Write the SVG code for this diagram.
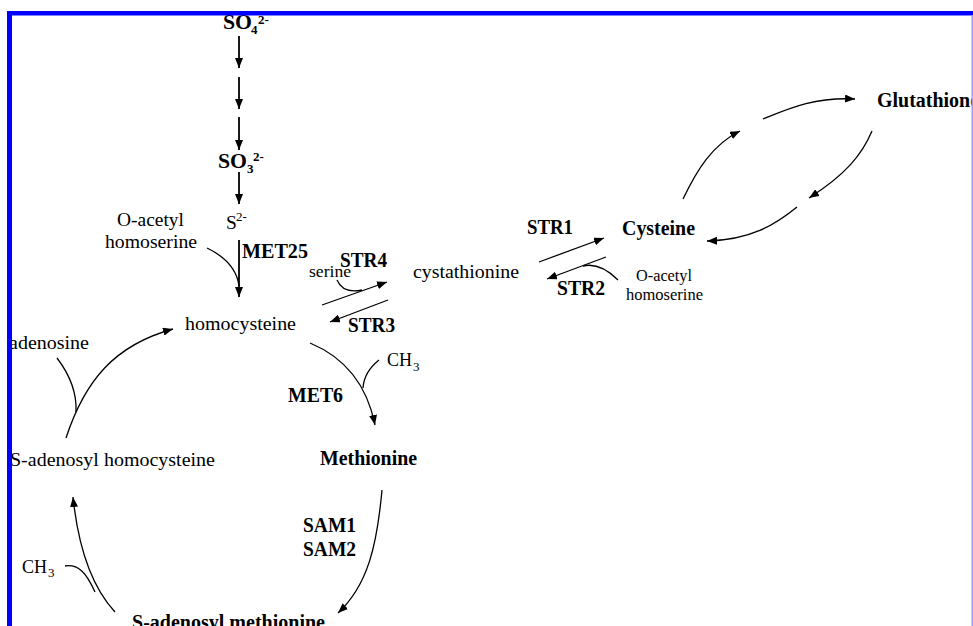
<svg xmlns="http://www.w3.org/2000/svg" width="973" height="626" viewBox="0 0 973 626">
<style>
text{font-family:"Liberation Serif","Times New Roman",serif;fill:#000}
.r{font-size:19.5px}
.s{font-size:16.5px}
.b{font-size:20px;font-weight:bold}
.sb{font-size:13px;font-weight:bold}
.sr{font-size:13px}
.c{fill:none;stroke:#000;stroke-width:1.3}
.v{fill:none;stroke:#000;stroke-width:1.8}
</style>
<defs>
<marker id="ah" viewBox="0 0 10 8" refX="10" refY="4" markerWidth="10" markerHeight="8" markerUnits="userSpaceOnUse" orient="auto">
<path d="M0,0 L10,4 L0,8 z" fill="#000"/>
</marker>
</defs>
<rect x="0" y="0" width="973" height="626" fill="#fff"/>

<g id="so4"><text class="b" x="223" y="29" font-size="22" textLength="29" lengthAdjust="spacingAndGlyphs">SO</text><text class="sb" x="251" y="34">4</text><text class="sb" x="258" y="24">2-</text></g>
<g id="so3"><text class="b" x="218" y="168" textLength="29" lengthAdjust="spacingAndGlyphs">SO</text><text class="sb" x="247" y="173">3</text><text class="sb" x="253" y="161">2-</text></g>
<g id="s2"><text class="r" x="226" y="229">S</text><text class="sr" x="236" y="221">2-</text></g>
<g id="oah1"><text class="r" x="117" y="226" textLength="67" lengthAdjust="spacingAndGlyphs">O-acetyl</text><text class="r" x="105" y="248" textLength="92" lengthAdjust="spacingAndGlyphs">homoserine</text></g>
<g id="met25"><text class="b" x="242" y="258" textLength="66" lengthAdjust="spacingAndGlyphs">MET25</text></g>
<g id="str4"><text class="b" x="340" y="267" textLength="47" lengthAdjust="spacingAndGlyphs">STR4</text></g>
<g id="serine"><text class="s" x="309" y="277" font-size="15" textLength="42" lengthAdjust="spacingAndGlyphs">serine</text></g>
<g id="cystathionine"><text class="r" x="413" y="278" textLength="106" lengthAdjust="spacingAndGlyphs">cystathionine</text></g>
<g id="str1"><text class="b" x="527" y="234" textLength="46" lengthAdjust="spacingAndGlyphs">STR1</text></g>
<g id="cysteine"><text class="b" x="622" y="235" textLength="73" lengthAdjust="spacingAndGlyphs">Cysteine</text></g>
<g id="str2"><text class="b" x="557" y="295" textLength="48" lengthAdjust="spacingAndGlyphs">STR2</text></g>
<g id="oah2"><text class="s" x="636" y="281" textLength="56" lengthAdjust="spacingAndGlyphs">O-acetyl</text><text class="s" x="626" y="300" textLength="77" lengthAdjust="spacingAndGlyphs">homoserine</text></g>
<g id="glutathione"><text class="b" x="877" y="107" textLength="102" lengthAdjust="spacingAndGlyphs">Glutathione</text></g>
<g id="homocysteine"><text class="r" x="185" y="330" textLength="111" lengthAdjust="spacingAndGlyphs">homocysteine</text></g>
<g id="str3"><text class="b" x="348" y="332" textLength="47" lengthAdjust="spacingAndGlyphs">STR3</text></g>
<g id="adenosine"><text class="r" x="9" y="349" textLength="80" lengthAdjust="spacingAndGlyphs">adenosine</text></g>
<g id="ch3a"><text class="r" x="387" y="366" font-size="18" textLength="25" lengthAdjust="spacingAndGlyphs">CH</text><text class="sr" x="413" y="371">3</text></g>
<g id="met6"><text class="b" x="288" y="402" textLength="55" lengthAdjust="spacingAndGlyphs">MET6</text></g>
<g id="methionine"><text class="b" x="320" y="465" textLength="97" lengthAdjust="spacingAndGlyphs">Methionine</text></g>
<g id="sah"><text class="r" x="10" y="466" textLength="205" lengthAdjust="spacingAndGlyphs">S-adenosyl homocysteine</text></g>
<g id="sam"><text class="b" x="303" y="532" textLength="53" lengthAdjust="spacingAndGlyphs">SAM1</text><text class="b" x="303" y="556" textLength="53" lengthAdjust="spacingAndGlyphs">SAM2</text></g>
<g id="ch3b"><text class="r" x="22" y="573" font-size="18" textLength="25" lengthAdjust="spacingAndGlyphs">CH</text><text class="sr" x="48" y="577">3</text></g>
<g id="samet"><text class="b" x="132" y="629" textLength="193" lengthAdjust="spacingAndGlyphs">S-adenosyl methionine</text></g>

<g id="connectors">
<path class="v" d="M239,36 V68" marker-end="url(#ah)"/>
<path class="v" d="M239,77 V109" marker-end="url(#ah)"/>
<path class="v" d="M239,117 V150" marker-end="url(#ah)"/>
<path class="v" d="M239,172 V204" marker-end="url(#ah)"/>
<path class="v" d="M239,240 V297" marker-end="url(#ah)"/>
<path class="c" d="M207,248 Q236,262 239,286"/>
<path class="c" d="M322,305 L387,282" marker-end="url(#ah)"/>
<path class="c" d="M337,280 Q343,294 362,290"/>
<path class="c" d="M388,300 L330,322" marker-end="url(#ah)"/>
<path class="c" d="M539,262 L604,238" marker-end="url(#ah)"/>
<path class="c" d="M606,257 L547,279" marker-end="url(#ah)"/>
<path class="c" d="M618,280 Q600,262 583,266"/>
<path class="c" d="M683,199 C697,170 712,145 740,131" marker-end="url(#ah)"/>
<path class="c" d="M763,119 C790,108 815,97 855,99" marker-end="url(#ah)"/>
<path class="c" d="M872,131 C862,155 845,175 809,198" marker-end="url(#ah)"/>
<path class="c" d="M797,207 C775,225 750,240 707,241" marker-end="url(#ah)"/>
<path class="c" d="M310,343 Q363,365 375,425" marker-end="url(#ah)"/>
<path class="c" d="M379,360 Q364,372 363,388"/>
<path class="c" d="M382,490 C377,545 368,585 338,613" marker-end="url(#ah)"/>
<path class="c" d="M115,612 C90,585 78,545 73,497" marker-end="url(#ah)"/>
<path class="c" d="M65,566 C78,564 86,572 95,592"/>
<path class="c" d="M66,438 C85,380 115,345 173,329" marker-end="url(#ah)"/>
<path class="c" d="M57,358 C70,375 77,392 76,412"/>
</g>

<g id="frame">
<rect x="7" y="11" width="966" height="4.5" fill="#0000ff"/>
<rect x="7" y="11" width="5" height="615" fill="#0000ff"/>
<rect x="971.5" y="15" width="1.5" height="611" fill="#9a9aff"/>
</g>
</svg>
